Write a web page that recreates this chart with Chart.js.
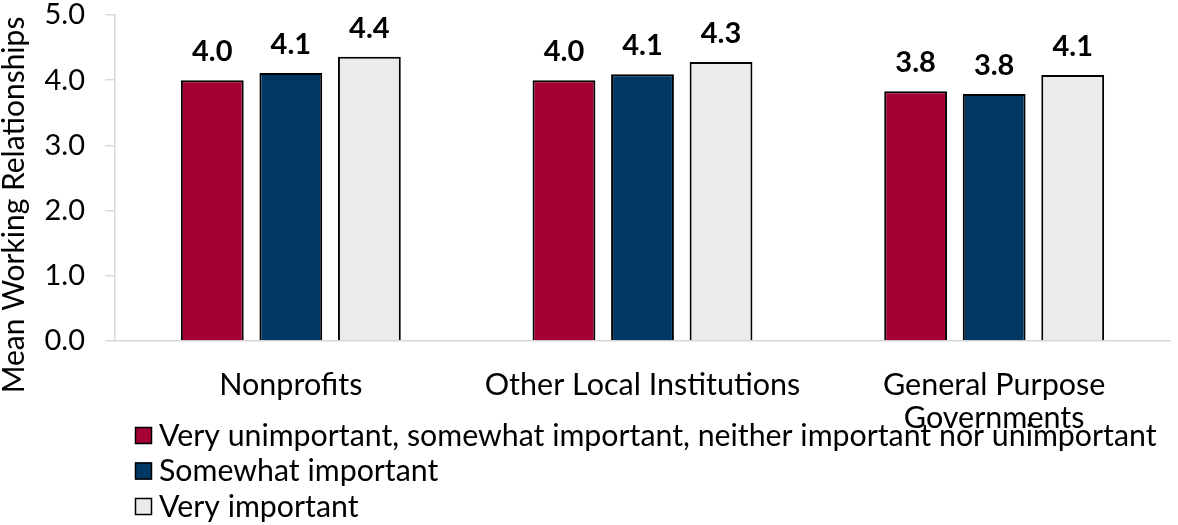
<!DOCTYPE html>
<html>
<head>
<meta charset="utf-8">
<script src="https://cdn.jsdelivr.net/npm/chart.js@4.4.1/dist/chart.umd.min.js"></script>
<style>
    html, body { margin: 0; padding: 0; background: #fff; }
    #wrap { position: relative; width: 1178px; height: 525px; }
</style>
</head>
<body>
<div id="wrap"><canvas id="grafico"></canvas></div>
<script>
// ---- dados ----
const categorias = ['Nonprofits', 'Other Local Institutions', ['General Purpose', 'Governments']];
const serieNomes = [
    'Very unimportant, somewhat important, neither important nor unimportant',
    'Somewhat important',
    'Very important',
];
const valoresPoucoImportante = [4.0, 4.0, 3.83];
const valoresAlgoImportante = [4.11, 4.09, 3.79];
const valoresMuitoImportante = [4.36, 4.28, 4.08];
const ticksY = [0, 1, 2, 3, 4, 5];
const tituloY = 'Mean Working Relationships';

const cores = ['#A50034', '#003763', '#ECEAEB'];
const fonte = "Lato, 'Open Sans', sans-serif";

// rótulos em negrito acima das barras
const rotulosPlugin = {
    id: 'rotulos',
    afterDatasetsDraw(chart) {
        const ctx = chart.ctx;
        ctx.save();
        ctx.font = 'bold 29px ' + fonte;
        ctx.fillStyle = '#000';
        ctx.textAlign = 'center';
        ctx.textBaseline = 'alphabetic';
        chart.data.datasets.forEach((ds, i) => {
            chart.getDatasetMeta(i).data.forEach((bar, j) => {
                ctx.fillText(ds.data[j].toFixed(1), bar.x, bar.y - 19);
            });
        });
        ctx.restore();
    },
};

// título do eixo Y (no original ele fica um pouco abaixo do centro)
const tituloYPlugin = {
    id: 'tituloY',
    afterDraw(chart) {
        const ctx = chart.ctx;
        ctx.save();
        ctx.font = '30px ' + fonte;
        ctx.fillStyle = '#000';
        ctx.textAlign = 'center';
        ctx.textBaseline = 'middle';
        ctx.translate(14, 205);
        ctx.rotate(-Math.PI / 2);
        ctx.fillText(tituloY, 0, 0);
        ctx.restore();
    },
};

// legenda manual, empilhada embaixo
const legendaPlugin = {
    id: 'legendaManual',
    afterDraw(chart) {
        const ctx = chart.ctx;
        ctx.save();
        ctx.font = '30.3px ' + fonte;
        ctx.textBaseline = 'middle';
        chart.data.datasets.forEach((ds, i) => {
            const y = 435 + i * 35.5;
            ctx.fillStyle = ds.backgroundColor;
            ctx.fillRect(135, y - 8, 17, 17);
            ctx.strokeStyle = '#000';
            ctx.lineWidth = 1.5;
            ctx.strokeRect(135.5, y - 7.5, 16, 16);
            ctx.fillStyle = '#000';
            ctx.fillText(ds.label, 159, y + 1);
        });
        ctx.restore();
    },
};

document.addEventListener('DOMContentLoaded', () => {
    const ctx = document.getElementById('grafico').getContext('2d');
    const valores = [valoresPoucoImportante, valoresAlgoImportante, valoresMuitoImportante];

    new Chart(ctx, {
        type: 'bar',
        data: {
            labels: categorias,
            datasets: serieNomes.map((nome, i) => ({
                label: nome,
                data: valores[i],
                backgroundColor: cores[i],
                borderColor: '#000',
                borderWidth: 2,
                borderSkipped: 'bottom',
                categoryPercentage: 0.67,
                barPercentage: 0.8,
            })),
        },
        options: {
            responsive: true,
            maintainAspectRatio: false,
            animation: false,
            layout: { padding: { top: 0, right: 8, bottom: 90, left: 0 } },
            plugins: {
                legend: { display: false },
                tooltip: { enabled: false },
            },
            scales: {
                x: {
                    afterFit: (axis) => { axis.height = 94; },
                    grid: { display: false, drawTicks: false },
                    border: { display: true, color: '#D9D9D9', width: 1.5 },
                    ticks: {
                        color: '#000',
                        padding: 27,
                        maxRotation: 0,
                        font: { family: fonte, size: 30.5, lineHeight: 1.1 },
                    },
                },
                y: {
                    min: 0,
                    max: 5,
                    afterFit: (axis) => {
                        axis.width = 115;
                        axis.paddingTop = 15;
                        axis.paddingBottom = 0;
                    },
                    afterBuildTicks: (axis) => { axis.ticks = ticksY.map((v) => ({ value: v })); },
                    grid: { drawOnChartArea: false, drawTicks: true, tickLength: 10, color: '#D9D9D9', lineWidth: 1.5 },
                    border: { display: true, color: '#D9D9D9', width: 1.5 },
                    ticks: {
                        color: '#000',
                        padding: 20,
                        callback: (v) => Number(v).toFixed(1),
                        font: { family: fonte, size: 29 },
                    },
                    title: { display: false },
                },
            },
        },
        plugins: [rotulosPlugin, tituloYPlugin, legendaPlugin],
    });
});
</script>
</body>
</html>
